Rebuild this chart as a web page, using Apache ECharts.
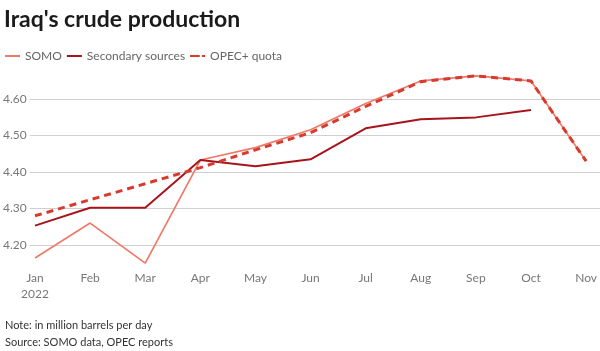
<!DOCTYPE html>
<html>
<head>
<meta charset="utf-8">
<script src="https://cdn.jsdelivr.net/npm/echarts@6/dist/echarts.min.js"></script>
<style>
  html, body { margin: 0; padding: 0; background: #fff; }
  #chart { width: 600px; height: 351px; }
</style>
</head>
<body>
<div id="chart"></div>
<script>
// monthly production, million barrels per day
let months = ['Jan\n2022', 'Feb', 'Mar', 'Apr', 'May', 'Jun', 'Jul', 'Aug', 'Sep', 'Oct', 'Nov'];
let somo = [4.164, 4.26, 4.15, 4.433, 4.467, 4.516, 4.588, 4.65, 4.664, 4.65, 4.43];
let secondary = [4.253, 4.302, 4.302, 4.433, 4.416, 4.435, 4.52, 4.545, 4.55, 4.57, null];
let quota = [4.28, 4.324, 4.368, 4.412, 4.461, 4.508, 4.58, 4.648, 4.664, 4.65, 4.43];
let yTicks = [4.2, 4.3, 4.4, 4.5, 4.6];

let colors = {
    somo: '#f07a6a',
    secondary: '#a8141c',
    quota: '#d83b2e',
    grid: '#d0d0d0',
    label: '#777'
}
let yMin = 4.145;
let yMax = 4.68;

let option = {
    animation: false,
    title: [{
        text: "Iraq's crude production",
        left: -1,
        top: 3,
        textStyle: { fontSize: 23, fontWeight: 'bold', color: '#1a1a1a', fontFamily: 'Lato' }
    }, {
        text: 'Note: in million barrels per day\nSource: SOMO data, OPEC reports',
        left: 0,
        top: 312,
        textStyle: { fontSize: 11, fontWeight: 'normal', color: '#333', lineHeight: 17, fontFamily: 'Lato' }
    }],
    legend: {
        left: 0,
        top: 45,
        itemWidth: 15,
        itemHeight: 2,
        itemGap: 5,
        symbolKeepAspect: false,
        textStyle: { fontSize: 12, color: '#666', fontFamily: 'Lato' },
        data: [
            { name: 'SOMO', icon: 'path://M0,0H15V2H0Z' },
            { name: 'Secondary sources', icon: 'path://M0,0H15V2H0Z' },
            { name: 'OPEC+ quota', icon: 'path://M0,0H9V2H0Z M11,0H14V2H11Z' }
        ]
    },
    grid: [
        // wide grid just for the horizontal rules and y labels
        { left: 25, right: 0, top: 70, bottom: 86 },
        { left: 35, right: 13, top: 70, bottom: 86 }
    ],
    xAxis: [{
        gridIndex: 0, type: 'value', show: false, min: 0, max: 1
    }, {
        gridIndex: 1,
        type: 'category',
        boundaryGap: false,
        data: months,
        axisLine: { show: false },
        axisTick: { show: false },
        axisLabel: { color: colors.label, fontSize: 12, margin: 5, lineHeight: 16, fontFamily: 'Lato' }
    }],
    yAxis: [{
        gridIndex: 0,
        type: 'value',
        min: yMin,
        max: yMax,
        splitNumber: 5,
        axisLine: { show: false },
        axisTick: { show: false },
        axisLabel: {
            color: colors.label, fontSize: 12, margin: 3, fontFamily: 'Lato',
            showMinLabel: false, showMaxLabel: false,
            formatter: function (v) {
                return yTicks.some(t => Math.abs(t - v) < 1e-6) ? v.toFixed(2) : '';
            }
        },
        splitLine: { show: true, showMinLine: false, showMaxLine: false, lineStyle: { color: colors.grid, width: 1 } }
    }, {
        gridIndex: 1,
        type: 'value',
        min: yMin,
        max: yMax,
        show: false,
        splitLine: { show: false }
    }],
    series: [{
        name: 'SOMO',
        type: 'line',
        xAxisIndex: 1, yAxisIndex: 1,
        symbol: 'none',
        data: somo,
        itemStyle: { color: colors.somo },
        lineStyle: { color: colors.somo, width: 1.7 },
        z: 2
    }, {
        name: 'Secondary sources',
        type: 'line',
        xAxisIndex: 1, yAxisIndex: 1,
        symbol: 'none',
        data: secondary,
        itemStyle: { color: colors.secondary },
        lineStyle: { color: colors.secondary, width: 2 },
        z: 3
    }, {
        name: 'OPEC+ quota',
        type: 'line',
        xAxisIndex: 1, yAxisIndex: 1,
        symbol: 'none',
        data: quota,
        itemStyle: { color: colors.quota },
        lineStyle: { color: colors.quota, width: 3, type: [7, 5] },
        z: 4
    }]
};
echarts.init(document.getElementById('chart')).setOption(option);
</script>
</body>
</html>
